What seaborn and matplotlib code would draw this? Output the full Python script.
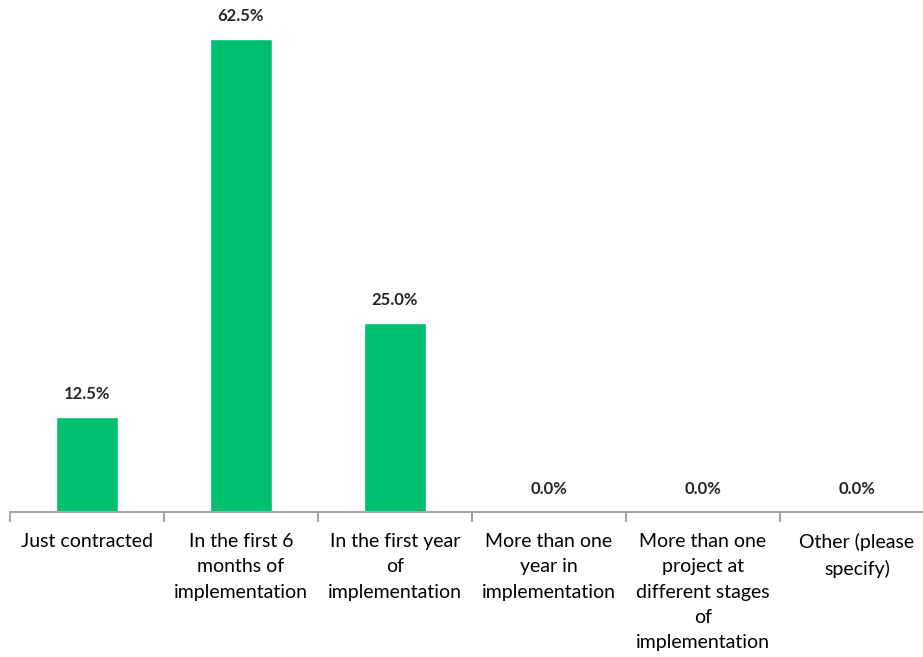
import matplotlib
matplotlib.use("Agg")
import matplotlib.pyplot as plt
import seaborn as sb
import pandas as pd
import numpy as np

categories = ["Just contracted",
              "In the first 6\nmonths of\nimplementation",
              "In the first year\nof\nimplementation",
              "More than one\nyear in\nimplementation",
              "More than one\nproject at\ndifferent stages\nof\nimplementation",
              "Other (please\nspecify)"]
values = [12.5, 62.5, 25.0, 0.0, 0.0, 0.0]

sb.set_style("white")
plt.rcParams['font.family'] = ['Lato', 'DejaVu Sans']

df = pd.DataFrame({"cat": categories, "pct": values})

fig = plt.figure(figsize=(9.23, 6.57), dpi=100)
ax = fig.add_axes([10/923, 145/657, 924/923, 512/657])
sb.barplot(data=df, x="cat", y="pct", color="#00BF6F", width=0.4, saturation=1, ax=ax)

ax.set_xlim(-0.5, 5.5)
ax.set_ylim(0, 512 / (473 / 62.5))
for s in ["top", "right", "left"]:
    ax.spines[s].set_visible(False)
ax.spines["bottom"].set_color("#A6A6A6")
ax.spines["bottom"].set_linewidth(1.5)
ax.set_yticks([])
ax.set_xlabel("")
ax.set_ylabel("")

# tick marks between categories, labels centred under bars
ax.set_xticks(np.arange(-0.5, 6, 1))
ax.set_xticklabels([])
ax.set_xticks(np.arange(6), minor=True)
ax.set_xticklabels(categories, minor=True, fontsize=14, color="#000000", linespacing=1.6, va="top")
ax.tick_params(axis="x", which="major", length=7, width=1.5, color="#A6A6A6", direction="out", bottom=True)
ax.tick_params(axis="x", which="minor", length=0, pad=15)

for i, v in enumerate(values):
    ax.text(i, v + 2.0, "{:.1f}%".format(v), ha="center", va="bottom", fontsize=12, fontweight="bold")

fig.savefig("out.png", dpi=100)
